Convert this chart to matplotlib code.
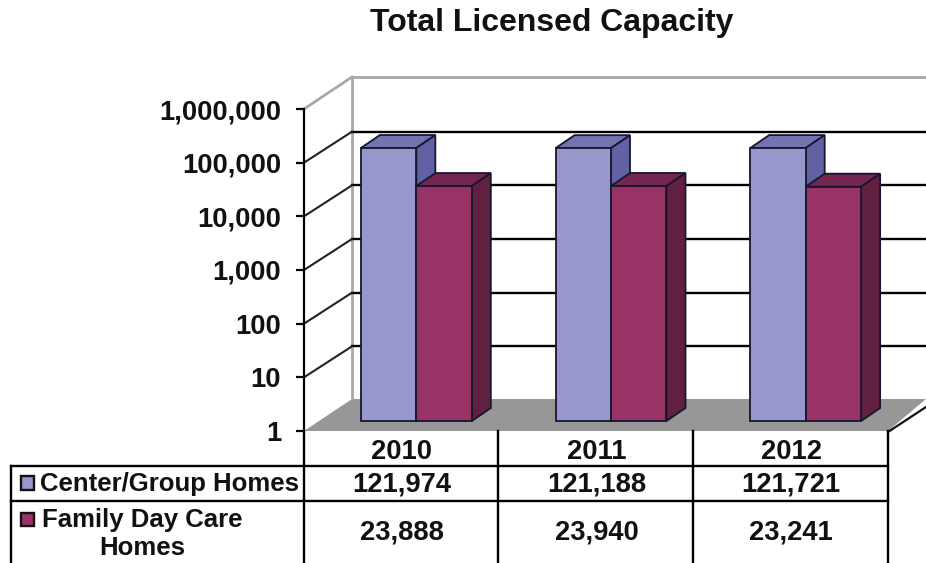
import matplotlib
matplotlib.use('Agg')
import matplotlib.pyplot as plt
from matplotlib.patches import Polygon, Rectangle
from matplotlib.transforms import Affine2D, IdentityTransform

plt.rcParams['font.family'] = ['Liberation Sans', 'DejaVu Sans']
plt.rcParams['font.weight'] = 'bold'

# data
years = ['2010', '2011', '2012']
series_names = ['Center/Group Homes', 'Family Day Care\nHomes']
center_group = [121974, 121188, 121721]
family_day = [23888, 23940, 23241]
tick_values = [1, 10, 100, 1000, 10000, 100000, 1000000]
tick_labels = ['1', '10', '100', '1,000', '10,000', '100,000', '1,000,000']

W, H = 926, 563
BLUE = ('#9797CB', '#7373B2', '#6161A3')   # front, top, side
RED = ('#993366', '#732650', '#61203F')
EDGE = '#16162E'
FLOOR = '#979797'

# 3d look, in pixels
back_dx, back_dy = 48, 31
bar_dx, bar_dy = 15, 10
depth_dx, depth_dy = 19, 13
bar_w = 0.285

fig = plt.figure(figsize=(W / 100, H / 100), dpi=100)

# backdrop axes in pixel coords, for walls and the table
bg = fig.add_axes([0, 0, 1, 1], zorder=0)
bg.set_xlim(0, W)
bg.set_ylim(H, 0)
bg.axis('off')

ax = fig.add_axes([304 / W, 1 - 431 / H, 584 / W, 322 / H], zorder=1)
ax.patch.set_visible(False)
ax.set_yscale('log')
ax.set_xlim(0, 3)
ax.set_ylim(1, 1000000)
ax.set_yticks(tick_values)
ax.set_yticklabels(tick_labels, fontsize=19.7, color='#111111')
ax.minorticks_off()
ax.set_xticks([])
for s in ['top', 'right', 'bottom']:
    ax.spines[s].set_visible(False)
ax.spines['left'].set_linewidth(1.6)
ax.tick_params(axis='y', length=5.5, width=1.6, pad=11)

# floor and walls
bg.add_patch(Polygon([(304, 431), (352, 399), (926, 399), (888, 431)],
                     facecolor=FLOOR, edgecolor='none', zorder=1))
bg.plot([352, 352], [77, 399], color='#A8A8A8', lw=2, zorder=1)
bg.plot([352, 926], [77, 77], color='#A8A8A8', lw=2, zorder=1)
bg.plot([304, 352], [109, 77], color='#A8A8A8', lw=2, zorder=1)
bg.plot([888, 926], [432, 407], color='#111111', lw=1.6, zorder=1)

back = ax.transData + Affine2D().translate(back_dx, back_dy)
for v in tick_values[1:-1]:
    ax.plot([0, 3.3], [v, v], color='#000000', lw=1.7, transform=back,
            clip_on=False, zorder=1)
    x0, y0 = ax.transData.transform((0, v))
    ax.plot([x0, x0 + back_dx], [y0, y0 + back_dy], color='#222222', lw=1.5,
            transform=IdentityTransform(), clip_on=False, zorder=1)

# bars
front = ax.transData + Affine2D().translate(bar_dx, bar_dy)


def draw_bars(xs, vals, cols, z):
    ax.bar(xs, vals, bar_w, bottom=1, color=cols[0], edgecolor=EDGE, lw=1.3,
           transform=front, clip_on=False, zorder=z + 1)
    for x, v in zip(xs, vals):
        xl, yt = front.transform((x - bar_w / 2, v))
        xr, yb = front.transform((x + bar_w / 2, 1))
        top = [(xl, yt), (xr, yt), (xr + depth_dx, yt + depth_dy), (xl + depth_dx, yt + depth_dy)]
        side = [(xr, yt), (xr + depth_dx, yt + depth_dy), (xr + depth_dx, yb + depth_dy), (xr, yb)]
        for pts, c in [(top, cols[1]), (side, cols[2])]:
            ax.add_patch(Polygon(pts, facecolor=c, edgecolor=EDGE, lw=1.3,
                                 transform=IdentityTransform(), clip_on=False, zorder=z))


centers = [0.5, 1.5, 2.5]
draw_bars([c - bar_w / 2 for c in centers], center_group, BLUE, 3)
draw_bars([c + bar_w / 2 for c in centers], family_day, RED, 5)

# table
tw = 1.7
for x in [304, 498, 693, 888]:
    bg.plot([x, x], [431, 563], color='black', lw=tw, zorder=2)
bg.plot([11, 11], [466, 563], color='black', lw=tw, zorder=2)
for y in [466, 501]:
    bg.plot([11, 888], [y, y], color='black', lw=tw, zorder=2)

col_x = [402, 597, 791]
fs = 19.7
for i, x in enumerate(col_x):
    bg.text(x, 452, years[i], ha='center', va='center', fontsize=fs, color='#111111')
    bg.text(x, 484, f'{center_group[i]:,}', ha='center', va='center', fontsize=fs, color='#111111')
    bg.text(x, 533, f'{family_day[i]:,}', ha='center', va='center', fontsize=fs, color='#111111')

bg.add_patch(Rectangle((21, 476), 13, 14, facecolor=BLUE[0], edgecolor='#111111', lw=1.7, zorder=3))
bg.add_patch(Rectangle((21, 513), 13, 13, facecolor=RED[0], edgecolor='#111111', lw=1.7, zorder=3))
bg.text(40, 484, series_names[0], ha='left', va='center', fontsize=18.5, color='#111111')
bg.text(142, 534, series_names[1], ha='center', va='center', fontsize=18.5, color='#111111',
        linespacing=1.25)

bg.text(552, 23, 'Total Licensed Capacity', ha='center', va='center', fontsize=23, color='#111111')

fig.savefig('out.png', dpi=100)
